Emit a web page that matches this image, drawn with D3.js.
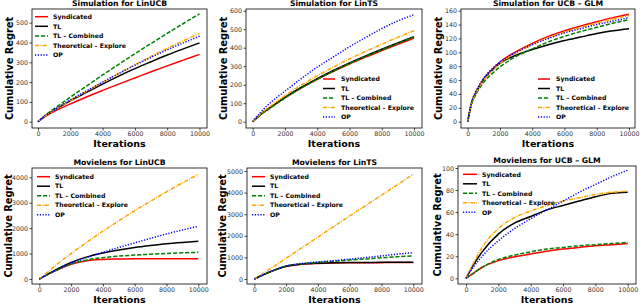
<!DOCTYPE html>
<html><head><meta charset="utf-8">
<script src="https://cdn.jsdelivr.net/npm/d3@7"></script>
<style>body{margin:0;background:#fff}text{font-family:"DejaVu Sans",sans-serif}</style>
</head><body>
<svg id="c" width="640" height="305"></svg>
<script>
// ---------- data ----------
const seriesNames = ["Syndicated", "TL", "TL \u2013 Combined", "Theoretical \u2013 Explore", "OP"];
const iters    = [0, 500, 1000, 2000, 3000, 4000, 5000, 6000, 7000, 8000, 9000, 10000];
const itersGLM = [0, 250, 500, 1000, 1500, 2000, 3000, 4000, 5000, 6000, 7000, 8000, 9000, 10000];
const xTickValues = [0, 2000, 4000, 6000, 8000, 10000];

// Simulation for LinUCB
const simLinUCB_syn = [0, 30, 52, 90, 125, 158, 190, 221, 252, 282, 311, 340];
const simLinUCB_tl  = [0, 32, 58, 105, 148, 190, 230, 268, 303, 337, 368, 398];
const simLinUCB_tlc = [0, 36, 66, 124, 180, 236, 290, 343, 395, 446, 496, 545];
const simLinUCB_the = [0, 32, 58, 107, 153, 199, 244, 288, 330, 370, 409, 446];
const simLinUCB_op  = [0, 33, 60, 110, 155, 200, 243, 285, 325, 363, 398, 432];
const simLinUCB_yTicks = [0, 100, 200, 300, 400, 500];

// Simulation for LinTS
const simLinTS_syn = [0, 40, 70, 130, 182, 229, 272, 312, 349, 384, 418, 452];
const simLinTS_tl  = [0, 41, 72, 132, 185, 233, 277, 318, 356, 392, 426, 460];
const simLinTS_tlc = [0, 39, 68, 128, 181, 229, 273, 314, 352, 388, 423, 458];
const simLinTS_the = [0, 44, 78, 141, 197, 248, 295, 339, 380, 419, 456, 492];
const simLinTS_op  = [0, 52, 95, 165, 232, 295, 350, 405, 455, 503, 545, 578];
const simLinTS_yTicks = [0, 100, 200, 300, 400, 500, 600];

// Simulation for UCB - GLM
const simGLM_syn = [0, 28, 42, 62, 75, 86, 101, 113, 123, 131, 138, 144, 150, 155];
const simGLM_tl  = [0, 28, 41, 61, 74, 84, 96, 104, 111, 117, 122, 127, 131, 134];
const simGLM_tlc = [0, 26, 39, 57, 69, 79, 94, 105, 115, 123, 130, 136, 142, 147];
const simGLM_the = [0, 28, 41, 60, 73, 84, 99, 111, 121, 129, 136, 142, 148, 153];
const simGLM_op  = [0, 29, 43, 63, 76, 86, 100, 111, 120, 128, 134, 140, 145, 150];
const simGLM_yTicks = [0, 20, 40, 60, 80, 100, 120, 140, 160];

// Movielens for LinUCB
const movLinUCB_syn = [0, 170, 320, 580, 720, 770, 790, 800, 800, 800, 800, 800];
const movLinUCB_tl  = [0, 180, 350, 650, 870, 1020, 1140, 1240, 1320, 1390, 1440, 1480];
const movLinUCB_tlc = [0, 170, 320, 590, 750, 840, 900, 940, 975, 1005, 1030, 1050];
const movLinUCB_the = [0, 250, 520, 1000, 1450, 1880, 2290, 2690, 3060, 3430, 3780, 4120];
const movLinUCB_op  = [0, 170, 330, 620, 850, 1050, 1240, 1420, 1600, 1770, 1930, 2070];
const movLinUCB_yTicks = [0, 1000, 2000, 3000, 4000];

// Movielens for LinTS
const movLinTS_syn = [0, 170, 330, 580, 680, 720, 740, 750, 755, 758, 760, 762];
const movLinTS_tl  = [0, 175, 335, 590, 690, 730, 750, 760, 765, 770, 772, 775];
const movLinTS_tlc = [0, 170, 330, 590, 700, 770, 820, 880, 930, 980, 1030, 1070];
const movLinTS_the = [0, 230, 470, 960, 1450, 1940, 2430, 2920, 3400, 3880, 4360, 4850];
const movLinTS_op  = [0, 180, 340, 600, 720, 790, 850, 920, 990, 1070, 1150, 1220];
const movLinTS_yTicks = [0, 1000, 2000, 3000, 4000, 5000];

// Movielens for UCB - GLM
const movGLM_syn = [0, 5, 10, 16, 19.5, 22, 24.5, 26.5, 28, 29.5, 30.5, 31.5];
const movGLM_tl  = [0, 13, 24, 40, 50, 56, 62, 66, 70, 74, 77, 78];
const movGLM_tlc = [0, 5, 10, 17, 21, 24, 26.5, 28, 29.5, 30.5, 31.5, 32.5];
const movGLM_the = [0, 15, 28, 45, 55, 61, 66, 70, 73, 76, 78, 79];
const movGLM_op  = [0, 11, 20, 34, 45, 54, 62, 70, 78, 85, 92, 98];
const movGLM_yTicks = [0, 20, 40, 60, 80, 100];

// ---------- styles ----------
const colors = ["#ff0000", "#000000", "#008000", "#ffa500", "#0000ff"];
const dashes = [null, null, "4.2,1.8", "4.2,1.2,1,1.2", "1.2,1.6"];

// ---------- layout ----------
const panels = [
  {title: "Simulation for LinUCB", xs: iters,
   series: [simLinUCB_syn, simLinUCB_tl, simLinUCB_tlc, simLinUCB_the, simLinUCB_op], yTicks: simLinUCB_yTicks,
   l: 32, t: 9, r: 207, b: 128, x0: 38, x1: 199.5, yv: 500, y0: 121.7, y1: 22.7,
   leg: {lx0: 35, lx1: 48, tx: 53, ty0: 16.7, dy: 9.6}, ylx: 9},
  {title: "Simulation for LinTS", xs: iters,
   series: [simLinTS_syn, simLinTS_tl, simLinTS_tlc, simLinTS_the, simLinTS_op], yTicks: simLinTS_yTicks,
   l: 246, t: 9, r: 422, b: 128, x0: 252.7, x1: 414, yv: 600, y0: 121.7, y1: 10.7,
   leg: {lx0: 323, lx1: 335, tx: 341, ty0: 79, dy: 9.5}, ylx: 223},
  {title: "Simulation for UCB \u2013 GLM", xs: itersGLM,
   series: [simGLM_syn, simGLM_tl, simGLM_tlc, simGLM_the, simGLM_op], yTicks: simGLM_yTicks,
   l: 461, t: 9, r: 635, b: 128, x0: 467.7, x1: 629, yv: 160, y0: 121.7, y1: 10.7,
   leg: {lx0: 538, lx1: 550, tx: 556, ty0: 79, dy: 9.5}, ylx: 438},
  {title: "Movielens for LinUCB", xs: iters,
   series: [movLinUCB_syn, movLinUCB_tl, movLinUCB_tlc, movLinUCB_the, movLinUCB_op], yTicks: movLinUCB_yTicks,
   l: 32, t: 168, r: 207, b: 284, x0: 39.3, x1: 198.3, yv: 4000, y0: 279, y1: 177.3,
   leg: {lx0: 37, lx1: 50, tx: 55, ty0: 176.7, dy: 9.5}, ylx: 8},
  {title: "Movielens for LinTS", xs: iters,
   series: [movLinTS_syn, movLinTS_tl, movLinTS_tlc, movLinTS_the, movLinTS_op], yTicks: movLinTS_yTicks,
   l: 247, t: 168, r: 422, b: 284, x0: 254.3, x1: 413.3, yv: 5000, y0: 279, y1: 171,
   leg: {lx0: 252, lx1: 265, tx: 270, ty0: 176.7, dy: 9.5}, ylx: 222},
  {title: "Movielens for UCB \u2013 GLM", xs: iters,
   series: [movGLM_syn, movGLM_tl, movGLM_tlc, movGLM_the, movGLM_op], yTicks: movGLM_yTicks,
   l: 458, t: 166, r: 636, b: 284, x0: 466, x1: 627.7, yv: 100, y0: 278.3, y1: 168,
   leg: {lx0: 463, lx1: 477, tx: 482, ty0: 174.3, dy: 9.5}, ylx: 437}
];

const svg = d3.select("#c");
panels.forEach((p, pi) => {
  const x = d3.scaleLinear().domain([0, 10000]).range([p.x0, p.x1]);
  const y = d3.scaleLinear().domain([0, p.yv]).range([p.y0, p.y1]);
  const g = svg.append("g");

  const cid = "clip" + pi;
  svg.append("clipPath").attr("id", cid).append("rect")
    .attr("x", p.l).attr("y", p.t).attr("width", p.r - p.l).attr("height", p.b - p.t);

  const line = d3.line().x((d, i) => x(p.xs[i])).y(d => y(d)).curve(d3.curveMonotoneX);
  const lg = g.append("g").attr("clip-path", `url(#${cid})`);
  p.series.forEach((s, si) => {
    lg.append("path").attr("d", line(s)).attr("fill", "none")
      .attr("stroke", colors[si]).attr("stroke-width", 1.5)
      .attr("stroke-dasharray", dashes[si]);
  });

  const xa = g.append("g").attr("transform", `translate(0,${p.b})`)
    .call(d3.axisBottom(x).tickValues(xTickValues).tickSize(2.5).tickPadding(0.8).tickFormat(d3.format("d")));
  const ya = g.append("g").attr("transform", `translate(${p.l},0)`)
    .call(d3.axisLeft(y).tickValues(p.yTicks).tickSize(2.5).tickPadding(1.5).tickFormat(d3.format("d")));
  [xa, ya].forEach(a => {
    a.select(".domain").remove();
    a.selectAll("line").attr("stroke", "#000").attr("stroke-width", 0.7);
    a.selectAll("text").attr("fill", "#333").style("font-size", "6.3px");
  });

  g.append("rect").attr("x", p.l).attr("y", p.t).attr("width", p.r - p.l).attr("height", p.b - p.t)
    .attr("fill", "none").attr("stroke", "#000").attr("stroke-width", 0.8);

  g.append("text").attr("x", (p.l + p.r) / 2).attr("y", p.t - 3).attr("text-anchor", "middle")
    .style("font-size", "7.7px").style("font-weight", "bold").text(p.title);

  g.append("text").attr("x", (p.l + p.r) / 2).attr("y", p.b + 18.6).attr("text-anchor", "middle")
    .style("font-size", "9.5px").style("font-weight", "bold").text("Iterations");
  g.append("text").attr("transform", `translate(${p.ylx + 3.5},${(p.t + p.b) / 2}) rotate(-90)`)
    .attr("text-anchor", "middle")
    .style("font-size", "9.8px").style("font-weight", "bold").text("Cumulative Regret");

  seriesNames.forEach((n, si) => {
    const yy = p.leg.ty0 + si * p.leg.dy;
    g.append("line").attr("x1", p.leg.lx0).attr("x2", p.leg.lx1).attr("y1", yy).attr("y2", yy)
      .attr("stroke", colors[si]).attr("stroke-width", 1.5).attr("stroke-dasharray", dashes[si]);
    g.append("text").attr("x", p.leg.tx).attr("y", yy + 2.2)
      .style("font-size", "6.2px").style("font-weight", "bold").text(n);
  });
});
</script>
</body></html>
